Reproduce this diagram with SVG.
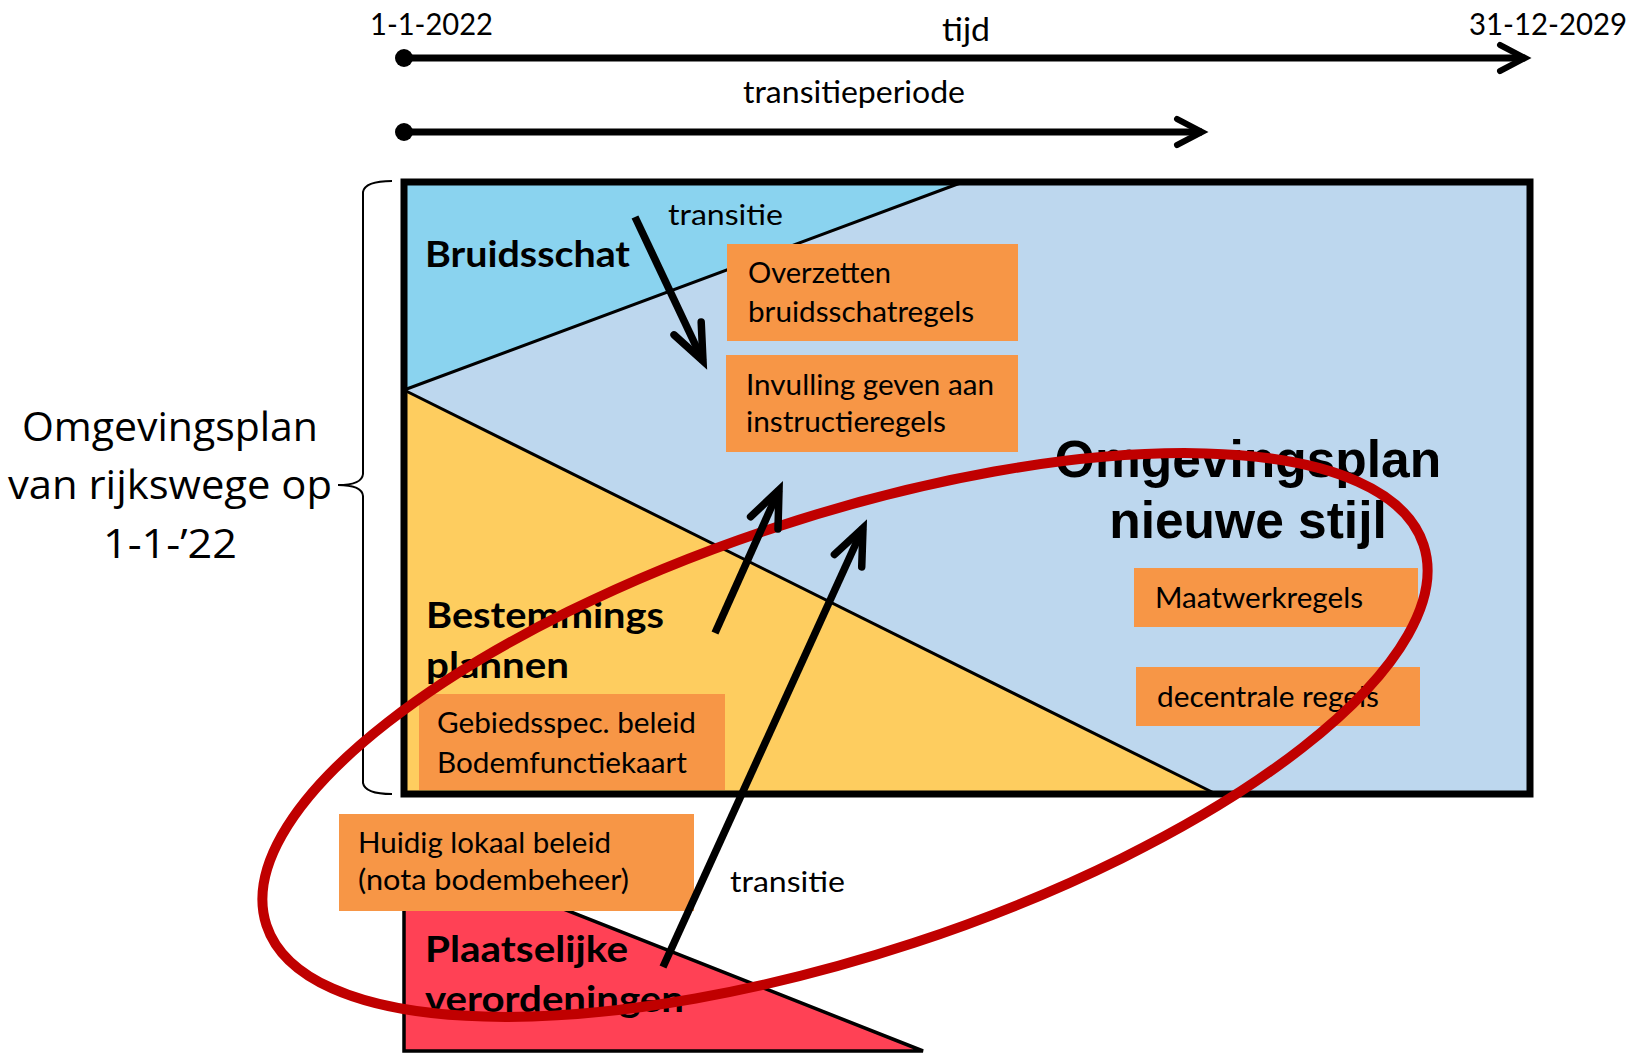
<svg xmlns="http://www.w3.org/2000/svg" width="1632" height="1053" viewBox="0 0 1632 1053">
<style>
.cal{font-family:Lato,"Open Sans",sans-serif;fill:#000}
.t30{font-size:30px}
.box{font-size:28px}
.bold{font-size:37px;font-weight:700}
.lbl{font-family:"Open Sans",sans-serif;font-size:40px;text-anchor:middle;fill:#000}
.big{font-family:"Liberation Sans",Arial,sans-serif;font-size:51.5px;font-weight:700;text-anchor:middle;fill:#000}
.orange{fill:#F79646}
.arrow{stroke:#000;stroke-width:7.5;fill:none}
.tl{stroke:#000;stroke-width:7;fill:none}
.edge{stroke:#000;stroke-width:3;fill:none}
</style>
<defs>
<marker id="headThick" markerUnits="userSpaceOnUse" orient="auto" refX="0" refY="0" markerWidth="60" markerHeight="60" overflow="visible">
<path d="M-36,-15 L0,0 L-36,15" fill="none" stroke="#000" stroke-width="7.5" stroke-linecap="round" stroke-linejoin="miter"/>
</marker>
<marker id="headThin" markerUnits="userSpaceOnUse" orient="auto" refX="0" refY="0" markerWidth="50" markerHeight="50" overflow="visible">
<path d="M-25,-13 L0,0 L-25,13" fill="none" stroke="#000" stroke-width="6" stroke-linecap="round" stroke-linejoin="miter"/>
</marker>
<marker id="dot" markerUnits="userSpaceOnUse" orient="auto" refX="0" refY="0" markerWidth="30" markerHeight="30" overflow="visible">
<circle cx="0" cy="0" r="9" fill="#000"/>
</marker>
</defs>
<rect x="0" y="0" width="1632" height="1053" fill="#fff"/>

<g id="timeline-labels">
<text class="cal t30" x="370" y="35" textLength="123" lengthAdjust="spacingAndGlyphs">1-1-2022</text>
<text class="cal" font-size="32" x="942" y="41" textLength="48" lengthAdjust="spacingAndGlyphs">tijd</text>
<text class="cal t30" x="1469" y="35" textLength="158" lengthAdjust="spacingAndGlyphs">31-12-2029</text>
<text class="cal t30" x="743" y="103" textLength="222" lengthAdjust="spacingAndGlyphs">transitieperiode</text>
</g>

<g id="omgevingsplan-area">
<rect x="404" y="182" width="1126" height="612" fill="#BDD7EE"/>
</g>
<g id="bruidsschat">
<polygon points="404,182 963,182 404,390" fill="#8AD3EF"/>
<line class="edge" x1="404" y1="390" x2="963" y2="182"/>
<text class="cal bold" x="425" y="267" textLength="205" lengthAdjust="spacingAndGlyphs">Bruidsschat</text>
</g>
<g id="bestemmingsplannen">
<polygon points="404,390 1216,794 404,794" fill="#FECD5F"/>
<line class="edge" x1="404" y1="390" x2="1216" y2="794"/>
</g>
<g id="omgevingsplan-border">
<rect x="404" y="182" width="1126" height="612" fill="none" stroke="#000" stroke-width="7"/>
</g>

<g id="plaatselijke-verordeningen">
<polygon points="404,846 923,1051 404,1051" fill="#FF4155" stroke="#000" stroke-width="3.5"/>
<text class="cal bold" x="425" y="962" textLength="203" lengthAdjust="spacingAndGlyphs">Plaatselijke</text>
<text class="cal bold" x="425" y="1012" textLength="259" lengthAdjust="spacingAndGlyphs">verordeningen</text>
</g>

<g id="bestemmingsplannen-label">
<text class="cal bold" x="426" y="628" textLength="238" lengthAdjust="spacingAndGlyphs">Bestemmings</text>
<text class="cal bold" x="426" y="678" textLength="143" lengthAdjust="spacingAndGlyphs">plannen</text>
</g>

<g id="nieuwe-stijl-label">
<text class="big" x="1248" y="477">Omgevingsplan</text>
<text class="big" x="1248" y="538">nieuwe stijl</text>
</g>

<g id="box-overzetten">
<rect class="orange" x="727" y="244" width="291" height="97"/>
<text class="cal box" x="748" y="283" textLength="143" lengthAdjust="spacingAndGlyphs">Overzetten</text>
<text class="cal box" x="748" y="322" textLength="226" lengthAdjust="spacingAndGlyphs">bruidsschatregels</text>
</g>
<g id="box-invulling">
<rect class="orange" x="726" y="355" width="292" height="97"/>
<text class="cal box" x="746" y="395" textLength="248" lengthAdjust="spacingAndGlyphs">Invulling geven aan</text>
<text class="cal box" x="746" y="432" textLength="200" lengthAdjust="spacingAndGlyphs">instructieregels</text>
</g>
<g id="box-maatwerk">
<rect class="orange" x="1134" y="568" width="284" height="59"/>
<text class="cal box" x="1155" y="608" textLength="208" lengthAdjust="spacingAndGlyphs">Maatwerkregels</text>
</g>
<g id="box-decentraal">
<rect class="orange" x="1136" y="667" width="284" height="59"/>
<text class="cal box" x="1157" y="707" textLength="222" lengthAdjust="spacingAndGlyphs">decentrale regels</text>
</g>
<g id="box-gebiedsspec">
<rect class="orange" x="419" y="694" width="306" height="96"/>
<text class="cal box" x="437" y="733" textLength="259" lengthAdjust="spacingAndGlyphs">Gebiedsspec. beleid</text>
<text class="cal box" x="437" y="773" textLength="250" lengthAdjust="spacingAndGlyphs">Bodemfunctiekaart</text>
</g>
<g id="box-huidig">
<rect class="orange" x="339" y="814" width="355" height="97"/>
<text class="cal box" x="358" y="853" textLength="253" lengthAdjust="spacingAndGlyphs">Huidig lokaal beleid</text>
<text class="cal box" x="358" y="890" textLength="271" lengthAdjust="spacingAndGlyphs">(nota bodembeheer)</text>
</g>

<g id="rijkswege-label">
<path d="M392,181 Q365,181 363,192 L363,474 Q362,485 338,485 Q362,485 363,496 L363,783 Q365,794 392,794" fill="none" stroke="#000" stroke-width="2"/>
<text class="lbl" x="170" y="441" textLength="296" lengthAdjust="spacingAndGlyphs">Omgevingsplan</text>
<text class="lbl" x="170" y="499" textLength="324" lengthAdjust="spacingAndGlyphs">van rijkswege op</text>
<text class="lbl" x="170" y="558" textLength="134" lengthAdjust="spacingAndGlyphs">1-1-’22</text>
</g>

<g id="transitie-labels">
<text class="cal box" x="668" y="225" textLength="115" lengthAdjust="spacingAndGlyphs">transitie</text>
<text class="cal box" x="730" y="892" textLength="115" lengthAdjust="spacingAndGlyphs">transitie</text>
</g>

<g id="scope-ellipse">
<ellipse cx="845" cy="735" rx="609" ry="219" transform="rotate(-18.2 845 735)" fill="none" stroke="#C00000" stroke-width="10"/>
</g>

<g id="connectors">
<line class="tl" x1="404" y1="58" x2="1525" y2="58" marker-start="url(#dot)" marker-end="url(#headThin)"/>
<line class="tl" x1="404" y1="132" x2="1202" y2="132" marker-start="url(#dot)" marker-end="url(#headThin)"/>
<line class="arrow" x1="635" y1="217" x2="703" y2="361" marker-end="url(#headThick)"/>
<line class="arrow" x1="715" y1="633" x2="779" y2="490" marker-end="url(#headThick)"/>
<line class="arrow" x1="663" y1="967" x2="863" y2="528" marker-end="url(#headThick)"/>
</g>
</svg>
